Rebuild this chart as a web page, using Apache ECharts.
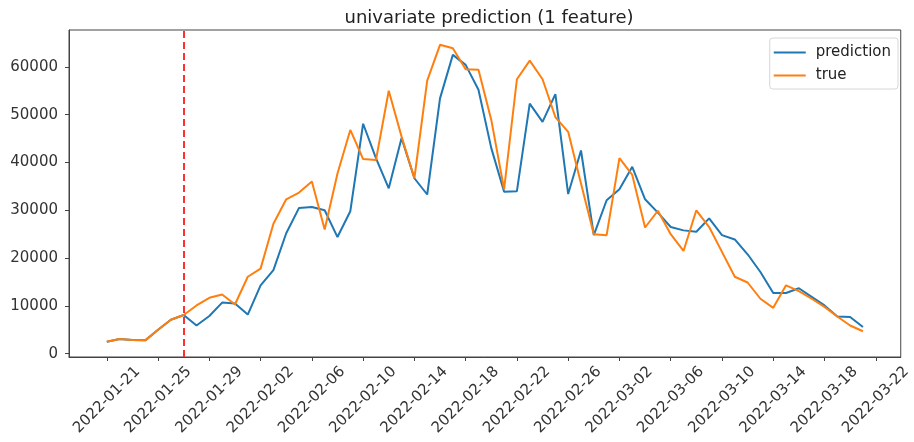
<!DOCTYPE html>
<html>
<head>
<meta charset="utf-8">
<script src="https://cdn.jsdelivr.net/npm/echarts@6/dist/echarts.min.js"></script>
<style>
  html, body { margin: 0; padding: 0; background: #fff; }
  #chart { width: 914px; height: 442px; }
</style>
</head>
<body>
<div id="chart"></div>
<script>
const dates = [
  '2022-01-21', '2022-01-22', '2022-01-23', '2022-01-24', '2022-01-25', '2022-01-26', '2022-01-27', '2022-01-28', '2022-01-29', '2022-01-30',
  '2022-01-31', '2022-02-01', '2022-02-02', '2022-02-03', '2022-02-04', '2022-02-05', '2022-02-06', '2022-02-07', '2022-02-08', '2022-02-09',
  '2022-02-10', '2022-02-11', '2022-02-12', '2022-02-13', '2022-02-14', '2022-02-15', '2022-02-16', '2022-02-17', '2022-02-18', '2022-02-19',
  '2022-02-20', '2022-02-21', '2022-02-22', '2022-02-23', '2022-02-24', '2022-02-25', '2022-02-26', '2022-02-27', '2022-02-28', '2022-03-01',
  '2022-03-02', '2022-03-03', '2022-03-04', '2022-03-05', '2022-03-06', '2022-03-07', '2022-03-08', '2022-03-09', '2022-03-10', '2022-03-11',
  '2022-03-12', '2022-03-13', '2022-03-14', '2022-03-15', '2022-03-16', '2022-03-17', '2022-03-18', '2022-03-19', '2022-03-20', '2022-03-21'
]

const prediction = [
  2500, 3100, 2900, 2800, 5000, 7100, 8100, 5900, 7900, 10700,
  10500, 8200, 14300, 17500, 25200, 30500, 30700, 30000, 24400, 29800,
  48100, 40900, 34600, 45100, 36700, 33300, 53400, 62500, 60400, 55200,
  43000, 33900, 34000, 52300, 48500, 54300, 33400, 42500, 24800, 32100,
  34400, 39100, 32300, 29500, 26500, 25800, 25500, 28300, 24800, 23900,
  20800, 17100, 12700, 12700, 13700, 11900, 10100, 7800, 7700, 5600
]

const trueValues = [
  2500, 3100, 2900, 2800, 5000, 7100, 8100, 10100, 11700, 12400,
  10300, 16100, 17800, 27200, 32300, 33700, 36000, 26000, 37700, 46800,
  40700, 40500, 55000, 45400, 36700, 57100, 64600, 63900, 59500, 59400,
  48900, 34400, 57400, 61300, 57400, 49500, 46400, 35600, 25000, 24800,
  40900, 37400, 26400, 29900, 25000, 21500, 30000, 26500, 21300, 16100,
  14900, 11500, 9600, 14300, 13100, 11500, 9800, 7800, 5900, 4700
]

// tick positions are day offsets from the first date
const xTicks = [0, 4, 8, 12, 16, 20, 24, 28, 32, 36, 40, 44, 48, 52, 56, 60]
const xTickLabels = [
  '2022-01-21', '2022-01-25', '2022-01-29', '2022-02-02', '2022-02-06', '2022-02-10', '2022-02-14', '2022-02-18',
  '2022-02-22', '2022-02-26', '2022-03-02', '2022-03-06', '2022-03-10', '2022-03-14', '2022-03-18', '2022-03-22'
]
const yTicks = [0, 10000, 20000, 30000, 40000, 50000, 60000]

const splitDay = 6 // 2022-01-27

const toPoints = (vals) => vals.map((v, i) => [i, v])

const axisColor = '#444'
const labelColor = '#333'
const font = 'DejaVu Sans'

const myChart = echarts.init(document.getElementById('chart'))
myChart.setOption({
  animation: false,
  title: {
    text: 'univariate prediction (1 feature)',
    left: 484,
    textAlign: 'center',
    top: 4,
    textStyle: { fontFamily: font, fontSize: 18, fontWeight: 'normal', color: '#222' }
  },
  legend: {
    data: ['prediction', 'true'],
    orient: 'vertical',
    right: 16,
    top: 38,
    icon: 'rect',
    itemWidth: 32,
    itemHeight: 2,
    itemGap: 8,
    padding: [7, 7, 6, 4],
    backgroundColor: '#fff',
    borderColor: '#d6d6d6',
    borderWidth: 1,
    borderRadius: 3,
    textStyle: { fontFamily: font, fontSize: 15, color: '#222', padding: [0, 0, 0, 5] }
  },
  grid: {
    left: 69,
    right: 8,
    top: 30,
    bottom: 85,
    show: true,
    borderColor: axisColor,
    borderWidth: 1
  },
  xAxis: {
    type: 'value',
    min: -2.95,
    max: 61.95,
    splitLine: { show: false },
    axisLine: { show: true, onZero: false, lineStyle: { color: axisColor } },
    axisTick: { show: true, length: 4, customValues: xTicks, lineStyle: { color: axisColor } },
    axisLabel: {
      customValues: xTicks,
      rotate: 45,
      margin: 43,
      align: 'center',
      verticalAlign: 'middle',
      fontFamily: font,
      fontSize: 15,
      color: labelColor,
      formatter: (v) => xTickLabels[xTicks.indexOf(Math.round(v))] || ''
    }
  },
  yAxis: {
    type: 'value',
    min: -680,
    max: 67700,
    splitLine: { show: false },
    axisLine: { show: true, onZero: false, lineStyle: { color: axisColor } },
    axisTick: { show: true, length: 4, customValues: yTicks, lineStyle: { color: axisColor } },
    axisLabel: {
      customValues: yTicks,
      margin: 11,
      fontFamily: font,
      fontSize: 15,
      color: labelColor,
      formatter: (v) => String(v)
    }
  },
  series: [
    {
      name: 'prediction',
      type: 'line',
      data: toPoints(prediction),
      showSymbol: false,
      color: '#1f77b4',
      lineStyle: { width: 2, color: '#1f77b4' },
      z: 2
    },
    {
      name: 'true',
      type: 'line',
      data: toPoints(trueValues),
      showSymbol: false,
      color: '#ff7f0e',
      lineStyle: { width: 2, color: '#ff7f0e' },
      z: 3,
      markLine: {
        silent: true,
        symbol: 'none',
        label: { show: false },
        lineStyle: { color: '#ff3030', type: [7, 4], width: 2 },
        data: [{ xAxis: splitDay }]
      }
    }
  ]
})
window.addEventListener('resize', myChart.resize)
</script>
</body>
</html>
